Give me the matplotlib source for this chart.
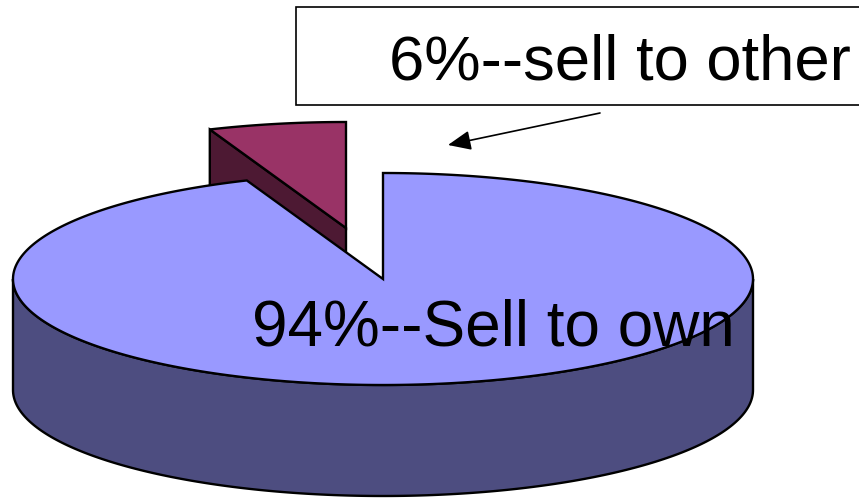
import numpy as np
import matplotlib.pyplot as plt
from matplotlib.patches import Polygon, Rectangle

# Chart data
labels = ["94%--Sell to own", "6%--sell to other"]
shares = [94, 6]
top_colors = ["#9999FF", "#993366"]
side_colors = ["#4D4D80", "#4D1933"]

# Pie geometry in pixels
cx, cy = 383, 279
rx, ry = 370, 106
depth = 111
explode = (-37, -51)


def rim(angles, dx=0, dy=0):
    # angles are measured clockwise from the top of the pie
    a = np.radians(angles)
    return np.column_stack([cx + dx + rx * np.sin(a), cy + dy - ry * np.cos(a)])


fig = plt.figure(figsize=(8.59, 5), dpi=100)
ax = fig.add_axes([0, 0, 1, 1])
ax.set_xlim(0, 859)
ax.set_ylim(500, 0)
ax.axis("off")

small_sweep = 360 * shares[1] / sum(shares)
lw = 1.7

# Exploded small slice: cut face first, then the top
dx, dy = explode
start = rim([-small_sweep], dx, dy)[0]
apex = np.array([cx + dx, cy + dy])
wall = [start, apex, apex + [0, depth], start + [0, depth]]
ax.add_patch(Polygon(wall, closed=True, fc=side_colors[1], ec="black", lw=lw, zorder=2))
arc = rim(np.linspace(-small_sweep, 0, 30), dx, dy)
ax.add_patch(Polygon(np.vstack([apex, arc]), closed=True, fc=top_colors[1], ec="black", lw=lw, zorder=3))

# Outer wall of the big slice
front = rim(np.linspace(90, 270, 200))
wall = np.vstack([front, front[::-1] + [0, depth]])
ax.add_patch(Polygon(wall, closed=True, fc=side_colors[0], ec="black", lw=lw, zorder=4))

# Top of the big slice
arc = rim(np.linspace(0, 360 - small_sweep, 400))
ax.add_patch(Polygon(np.vstack([[cx, cy], arc]), closed=True, fc=top_colors[0], ec="black",
                     lw=lw, joinstyle="miter", zorder=5))

# Callout box, runs off the right edge
ax.add_patch(Rectangle((296, 7), 600, 97.5, fc="white", ec="black", lw=1.2, zorder=6))
ax.text(389, 80, labels[1], fontsize=45.6, family="Liberation Sans", color="black",
        ha="left", va="baseline", zorder=7)
ax.text(252, 346, labels[0], fontsize=46, family="Liberation Sans", color="black",
        ha="left", va="baseline", zorder=7)

# Arrow from the callout to the gap
ax.annotate("", xy=(448, 145), xytext=(600, 113), zorder=7,
            arrowprops=dict(arrowstyle="-|>,head_length=0.7,head_width=0.3", color="black",
                            lw=1.2, shrinkA=0, shrinkB=0, mutation_scale=20))

fig.savefig("out.png", dpi=100)
